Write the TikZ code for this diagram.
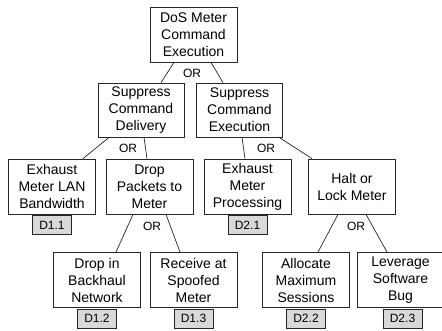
\documentclass[tikz,border=0pt]{standalone}
\usepackage{fontspec}
\setmainfont{Liberation Sans}
\begin{document}
\begin{tikzpicture}[x=1pt,y=-1pt,
  box/.style={draw=black!85, line width=0.8pt, fill=white, minimum width=87pt, minimum height=55pt,
    inner sep=0pt, align=center, font=\fontsize{14}{17}\selectfont},
  tag/.style={draw=black!85, line width=0.8pt, fill=black!15, minimum width=39pt, minimum height=19pt,
    inner sep=0pt, anchor=north, font=\fontsize{12}{14}\selectfont},
  orlab/.style={font=\fontsize{12}{14}\selectfont, inner sep=0pt},
  link/.style={draw=black!85, line width=0.7pt}]
\useasboundingbox (0,0) rectangle (442,331);
% nodes
\node[box] (root) at (193.5,34.5) {DoS Meter\\Command\\Execution};
\node[box, minimum width=86pt, minimum height=54pt] (scd) at (141,110) {Suppress\\Command\\Delivery};
\node[box, minimum width=86pt, minimum height=54pt] (sce) at (239.5,110) {Suppress\\Command\\Execution};
\node[box] (exlan) at (52,186.5) {Exhaust\\Meter LAN\\Bandwidth};
\node[box] (droppk) at (149.5,186.5) {Drop\\Packets to\\Meter};
\node[box] (exproc) at (247.5,186.5) {Exhaust\\Meter\\Processing};
\node[box] (halt) at (352,186.5) {Halt or\\Lock Meter};
\node[box] (dropin) at (97,280) {Drop in\\Backhaul\\Network};
\node[box] (recv) at (193.5,280) {Receive at\\Spoofed\\Meter};
\node[box] (alloc) at (306,280) {Allocate\\Maximum\\Sessions};
\node[box] (lever) at (400.5,280) {Leverage\\Software\\Bug};
% tags
\node[tag] (t11) at ([yshift=-1pt]exlan.south) {D1.1};
\node[tag] (t21) at ([yshift=-1pt]exproc.south) {D2.1};
\node[tag] (t12) at ([yshift=-1pt]dropin.south) {D1.2};
\node[tag] (t13) at ([yshift=-1pt]recv.south) {D1.3};
\node[tag] (t22) at ([yshift=-1pt]alloc.south) {D2.2};
\node[tag] (t23) at ([xshift=2pt,yshift=-1pt]lever.south) {D2.3};
% OR labels
\node[orlab] (or1) at (192,73) {OR};
\node[orlab] (or2) at (128,148) {OR};
\node[orlab] (or3) at (266,148) {OR};
\node[orlab] (or4) at (152,226) {OR};
\node[orlab] (or5) at (356,226) {OR};
% connectors
\draw[link] ([xshift=-19.5pt]root.south) -- ([xshift=20pt]scd.north);
\draw[link] ([xshift=17.5pt]root.south) -- ([xshift=-16.5pt]sce.north);
\draw[link] ([xshift=-32pt]scd.south) -- ([xshift=31pt]exlan.north);
\draw[link] ([xshift=3pt]scd.south) -- ([xshift=-2.5pt]droppk.north);
\draw[link] ([xshift=2.5pt]sce.south) -- ([xshift=-2.5pt]exproc.north);
\draw[link] ([xshift=39.5pt]sce.south) -- ([xshift=-40pt]halt.north);
\draw[link] ([xshift=-16.5pt]droppk.south) -- ([xshift=19pt]dropin.north);
\draw[link] ([xshift=16.5pt]droppk.south) -- ([xshift=-13.5pt]recv.north);
\draw[link] ([xshift=-14pt]halt.south) -- ([xshift=12pt]alloc.north);
\draw[link] ([xshift=14pt]halt.south) -- ([xshift=-13.5pt]lever.north);
\end{tikzpicture}
\end{document}
